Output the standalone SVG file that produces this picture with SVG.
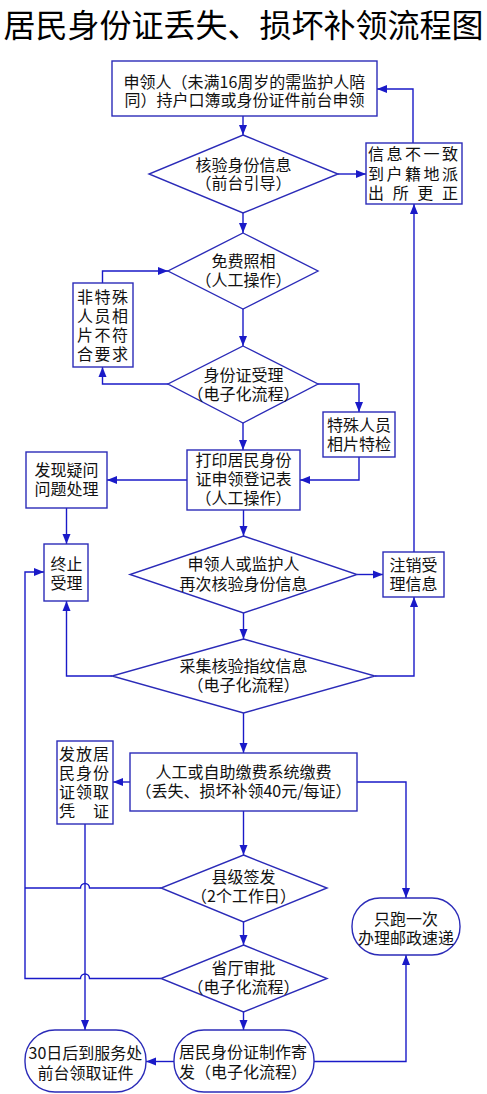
<svg xmlns="http://www.w3.org/2000/svg" width="487" height="1094" viewBox="0 0 487 1094">
<style>
  .bg{fill:#ffffff}
  .shape{fill:#ffffff;stroke:#2b2bb8;stroke-width:1.4}
  .conn{fill:none;stroke:#1a1ac8;stroke-width:1.4}
  text{font-family:"Noto Sans CJK SC","Noto Sans",sans-serif;font-size:16px;fill:#111111}
  .c{text-anchor:middle}
  .title{font-size:32px;text-anchor:middle;fill:#000000}
</style>
<defs>
  <marker id="arr" markerUnits="userSpaceOnUse" markerWidth="10" markerHeight="10" viewBox="0 0 10 10" refX="10" refY="5" orient="auto">
    <path d="M0,1 L10,5 L0,9 Z" fill="#1a1ac8"/>
  </marker>
</defs>
<rect class="bg" x="0" y="0" width="487" height="1094"/>
<text class="title" x="243.5" y="37">居民身份证丢失、损坏补领流程图</text>

<g id="connectors">
  <path class="conn" marker-end="url(#arr)" d="M243,116 V135"/>
  <path class="conn" marker-end="url(#arr)" d="M338,174 H366"/>
  <path class="conn" marker-end="url(#arr)" d="M413,143 V89 H377"/>
  <path class="conn" marker-end="url(#arr)" d="M243,213 V233"/>
  <path class="conn" marker-end="url(#arr)" d="M102.5,283 V271 H168"/>
  <path class="conn" marker-end="url(#arr)" d="M243,309 V346"/>
  <path class="conn" marker-end="url(#arr)" d="M168,384 H102.5 V367"/>
  <path class="conn" marker-end="url(#arr)" d="M318,384 H359 V412"/>
  <path class="conn" marker-end="url(#arr)" d="M243,423 V450"/>
  <path class="conn" marker-end="url(#arr)" d="M359,457 V480 H300"/>
  <path class="conn" marker-end="url(#arr)" d="M187,480 H107"/>
  <path class="conn" marker-end="url(#arr)" d="M66.5,508 V544"/>
  <path class="conn" marker-end="url(#arr)" d="M243.5,510 V536"/>
  <path class="conn" marker-end="url(#arr)" d="M357,574.5 H383"/>
  <path class="conn" marker-end="url(#arr)" d="M414,552 V204"/>
  <path class="conn" marker-end="url(#arr)" d="M243.5,613 V639"/>
  <path class="conn" marker-end="url(#arr)" d="M112,676 H66.5 V601"/>
  <path class="conn" marker-end="url(#arr)" d="M375,676 H414 V597"/>
  <path class="conn" marker-end="url(#arr)" d="M243.5,713 V753"/>
  <path class="conn" marker-end="url(#arr)" d="M130,782 H113"/>
  <path class="conn" marker-end="url(#arr)" d="M357,782 H406 V898"/>
  <path class="conn" marker-end="url(#arr)" d="M243.5,811 V855"/>
  <path class="conn" d="M161,888 H89.5 A4.5,4.5 0 0 0 80.5,888 H25"/>
  <path class="conn" marker-end="url(#arr)" d="M161,978.5 H89.5 A4.5,4.5 0 0 0 80.5,978.5 H25 V572 H44"/>
  <path class="conn" marker-end="url(#arr)" d="M243.5,922 V945"/>
  <path class="conn" marker-end="url(#arr)" d="M243.5,1012 V1030"/>
  <path class="conn" marker-end="url(#arr)" d="M85,824 V1030"/>
  <path class="conn" marker-end="url(#arr)" d="M174,1061.5 H146"/>
  <path class="conn" marker-end="url(#arr)" d="M314,1061.5 H406 V955"/>
</g>

<g id="n-apply">
  <rect class="shape" x="112" y="61" width="265" height="55"/>
  <text class="c" x="244.5" y="88">申领人（未满16周岁的需监护人陪</text>
  <text class="c" x="244.5" y="106">同）持户口簿或身份证件前台申领</text>
</g>
<g id="n-verify">
  <polygon class="shape" points="243,135 338,174 243,213 149,174"/>
  <text class="c" x="243.5" y="171">核验身份信息</text>
  <text class="c" x="243.5" y="189">（前台引导）</text>
</g>
<g id="n-mismatch">
  <rect class="shape" x="366" y="143" width="96" height="61"/>
  <text class="c" x="376 394.5 413 431.5 450" y="160">信息不一致</text>
  <text class="c" x="376 394.5 413 431.5 450" y="180">到户籍地派</text>
  <text class="c" x="376 400.7 425.3 450" y="199">出所更正</text>
</g>
<g id="n-photo">
  <polygon class="shape" points="243,233 318,271 243,309 168,271"/>
  <text class="c" x="243.5" y="267">免费照相</text>
  <text class="c" x="243.5" y="286">（人工操作）</text>
</g>
<g id="n-nonspecial">
  <rect class="shape" x="73" y="283" width="60" height="84"/>
  <text class="c" x="85 102.5 120" y="303">非特殊</text>
  <text class="c" x="85 102.5 120" y="322">人员相</text>
  <text class="c" x="85 102.5 120" y="341">片不符</text>
  <text class="c" x="85 102.5 120" y="360">合要求</text>
</g>
<g id="n-accept">
  <polygon class="shape" points="243,346 318,384 243,423 168,384"/>
  <text class="c" x="243.5" y="380.5">身份证受理</text>
  <text class="c" x="243.5" y="399.5">（电子化流程）</text>
</g>
<g id="n-special">
  <rect class="shape" x="323" y="412" width="72" height="45"/>
  <text class="c" x="359" y="431">特殊人员</text>
  <text class="c" x="359" y="450">相片特检</text>
</g>
<g id="n-print">
  <rect class="shape" x="187" y="450" width="113" height="60"/>
  <text class="c" x="243.5" y="466">打印居民身份</text>
  <text class="c" x="243.5" y="485">证申领登记表</text>
  <text class="c" x="243.5" y="504">（人工操作）</text>
</g>
<g id="n-doubt">
  <rect class="shape" x="26" y="452" width="81" height="56"/>
  <text class="c" x="66.5" y="476">发现疑问</text>
  <text class="c" x="66.5" y="495">问题处理</text>
</g>
<g id="n-stop">
  <rect class="shape" x="44" y="544" width="44" height="57"/>
  <text class="c" x="66.5" y="569.5">终止</text>
  <text class="c" x="66.5" y="588.5">受理</text>
</g>
<g id="n-recheck">
  <polygon class="shape" points="243.5,536 357,574.5 243.5,613 130,574.5"/>
  <text class="c" x="243.5" y="569.5">申领人或监护人</text>
  <text class="c" x="243.5" y="589.5">再次核验身份信息</text>
</g>
<g id="n-cancel">
  <rect class="shape" x="383" y="552" width="61" height="45"/>
  <text class="c" x="413.5" y="570.5">注销受</text>
  <text class="c" x="413.5" y="589.5">理信息</text>
</g>
<g id="n-finger">
  <polygon class="shape" points="243.5,639 375,676 243.5,713 112,676"/>
  <text class="c" x="243.5" y="672">采集核验指纹信息</text>
  <text class="c" x="243.5" y="691">（电子化流程）</text>
</g>
<g id="n-pay">
  <rect class="shape" x="130" y="753" width="227" height="58"/>
  <text class="c" x="243.5" y="778">人工或自助缴费系统缴费</text>
  <text class="c" x="243.5" y="797">（丢失、损坏补领40元/每证）</text>
</g>
<g id="n-voucher">
  <rect class="shape" x="57" y="741" width="56" height="83"/>
  <text class="c" x="67 84 101" y="759.5">发放居</text>
  <text class="c" x="67 84 101" y="778.5">民身份</text>
  <text class="c" x="67 84 101" y="797.5">证领取</text>
  <text class="c" x="67 101" y="816.5">凭证</text>
</g>
<g id="n-county">
  <polygon class="shape" points="243.5,855 327,888 243.5,922 161,888"/>
  <text class="c" x="243.5" y="883">县级签发</text>
  <text class="c" x="243.5" y="901.5">（2个工作日）</text>
</g>
<g id="n-province">
  <polygon class="shape" points="243.5,945 327,978.5 243.5,1012 161,978.5"/>
  <text class="c" x="243.5" y="974">省厅审批</text>
  <text class="c" x="243.5" y="993">（电子化流程）</text>
</g>
<g id="n-post">
  <rect class="shape" x="352" y="898" width="108" height="57" rx="28" ry="28"/>
  <text class="c" x="406" y="925">只跑一次</text>
  <text class="c" x="406" y="944">办理邮政速递</text>
</g>
<g id="n-make">
  <rect class="shape" x="174" y="1030" width="140" height="62" rx="30" ry="30"/>
  <text x="179" y="1058">居民身份证制作寄</text>
  <text x="179" y="1078">发（电子化流程）</text>
</g>
<g id="n-pickup">
  <rect class="shape" x="25" y="1030" width="121" height="62" rx="30" ry="30"/>
  <text class="c" x="85.5" y="1059">30日后到服务处</text>
  <text class="c" x="85.5" y="1079">前台领取证件</text>
</g>
</svg>
